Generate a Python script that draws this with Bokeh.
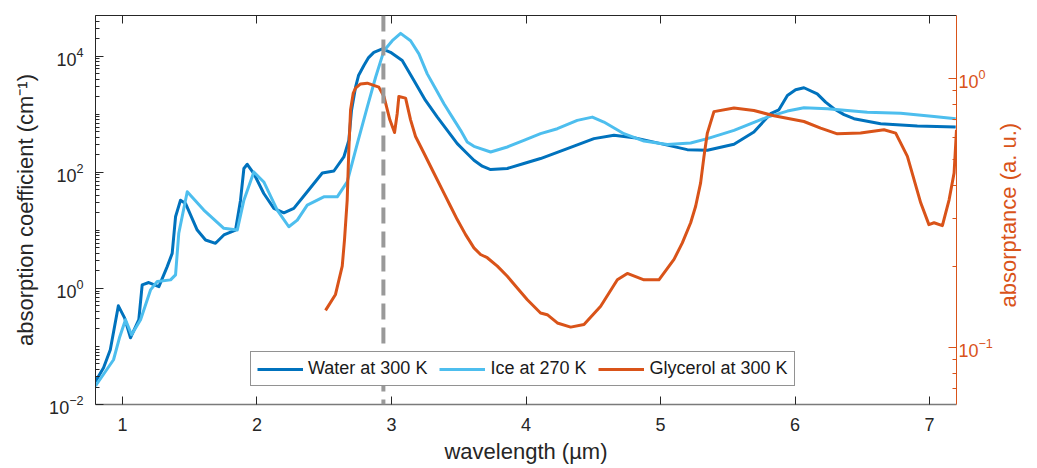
import math
from bokeh.plotting import figure
from bokeh.models import (Range1d, LogScale, LogAxis, LinearAxis, FixedTicker,
                          Span, Legend, LegendItem, CustomJSTickFormatter)
from bokeh.embed import file_html
from bokeh.resources import INLINE

# ---------------- data ----------------
water_wl = [0.80, 0.86, 0.91, 0.97, 1.016, 1.06, 1.122, 1.147, 1.196, 1.271, 1.333,
            1.370, 1.395, 1.432, 1.469, 1.556, 1.618, 1.692, 1.754, 1.841, 1.878,
            1.903, 1.928, 1.977, 2.051, 2.126, 2.200, 2.274, 2.374, 2.486, 2.572,
            2.646, 2.683, 2.703, 2.733, 2.755, 2.795, 2.830, 2.869, 2.932, 2.993,
            3.080, 3.167, 3.253, 3.341, 3.415, 3.489, 3.551, 3.613, 3.675, 3.737,
            3.861, 3.984, 4.108, 4.307, 4.505, 4.654, 4.802, 5.001, 5.199, 5.348,
            5.546, 5.694, 5.818, 5.880, 5.943, 6.004, 6.066, 6.165, 6.227, 6.289,
            6.364, 6.438, 6.636, 6.909, 7.194]
water_abs = [0.025, 0.043, 0.088, 0.50, 0.31, 0.141, 0.29, 1.15, 1.26, 1.07, 2.37,
             4.0, 17.1, 33, 29, 10.1, 6.8, 5.97, 8.3, 10.1, 33,
             116, 137, 95, 43, 23.8, 20, 23.8, 46, 97, 105,
             183, 354, 1160, 2910, 4620, 6870, 9420, 11600, 13300, 11600,
             8370, 3800, 1720, 889, 526, 311, 223, 161, 127, 111,
             116, 141, 172, 255, 379, 432, 394, 311, 245, 239,
             303, 492, 1020, 1190, 2100, 2630, 2850, 2240, 1610, 1240,
             980, 836, 686, 624, 600]

ice_wl = [0.80, 0.874, 0.934, 0.978, 1.023, 1.068, 1.135, 1.209, 1.259, 1.358, 1.395,
          1.419, 1.482, 1.605, 1.754, 1.854, 1.903, 1.977, 2.051, 2.151, 2.237,
          2.300, 2.374, 2.497, 2.597, 2.671, 2.746, 2.820, 2.882, 2.944, 3.006,
          3.068, 3.142, 3.204, 3.266, 3.328, 3.390, 3.452, 3.514, 3.563, 3.613,
          3.737, 3.861, 3.984, 4.108, 4.233, 4.381, 4.493, 4.579, 4.728, 4.877,
          5.051, 5.224, 5.348, 5.546, 5.794, 5.943, 6.066, 6.240, 6.537, 6.785,
          7.033, 7.194]
ice_abs = [0.021, 0.037, 0.059, 0.141, 0.288, 0.159, 0.288, 0.94, 1.31, 1.40, 1.71,
           8.9, 46, 22.3, 10.8, 10.1, 33, 101, 68, 22.3, 11.5,
           15, 27.2, 37.7, 37.7, 68, 311, 1320, 4320, 12400, 18400,
           24600, 18400, 10900, 4940, 2740, 1510, 889, 526, 331, 279,
           223, 272, 354, 461, 562, 781, 889, 731, 461, 344,
           299, 319, 379, 526, 889, 1130, 1290, 1240, 1080, 1040,
           915, 836]

gly_wl = [2.510, 2.584, 2.634, 2.651, 2.671, 2.683, 2.696, 2.716, 2.733, 2.770,
          2.820, 2.906, 2.944, 2.988, 3.023, 3.043, 3.055, 3.105, 3.142, 3.179,
          3.241, 3.315, 3.390, 3.439, 3.489, 3.551, 3.613, 3.662, 3.712, 3.787,
          3.861, 3.935, 4.010, 4.108, 4.158, 4.233, 4.332, 4.431, 4.555, 4.679,
          4.753, 4.877, 4.988, 5.100, 5.162, 5.224, 5.261, 5.298, 5.323, 5.348,
          5.397, 5.546, 5.694, 5.843, 6.066, 6.190, 6.314, 6.487, 6.661, 6.748,
          6.835, 6.934, 6.995, 7.033, 7.095, 7.145, 7.182, 7.200]
gly_abs = [0.137, 0.157, 0.200, 0.251, 0.353, 0.542, 0.763, 0.880, 0.918, 0.952,
           0.958, 0.926, 0.855, 0.700, 0.628, 0.741, 0.855, 0.843, 0.700, 0.607,
           0.527, 0.444, 0.374, 0.334, 0.298, 0.262, 0.234, 0.221, 0.215, 0.200,
           0.1834, 0.166, 0.150, 0.134, 0.132, 0.123, 0.1187, 0.1214, 0.142, 0.178,
           0.188, 0.178, 0.178, 0.212, 0.244, 0.290, 0.334, 0.408, 0.512, 0.625,
           0.751, 0.774, 0.758, 0.725, 0.690, 0.652, 0.621, 0.625, 0.643, 0.625,
           0.512, 0.344, 0.2855, 0.290, 0.283, 0.353, 0.444, 0.643]

marker_wl = 2.94

x_ticks = [1, 2, 3, 4, 5, 6, 7]
left_ticks = [1e-2, 1e0, 1e2, 1e4]
right_ticks = [0.1, 1.0]

labels = ["Water at 300 K", "Ice at 270 K", "Glycerol at 300 K"]
colors = ["#0072BD", "#4DBEEE", "#D95319"]
x_title = "wavelength (µm)"
left_title = "absorption coefficient (cm⁻¹)"
right_title = "absorptance (a. u.)"

# ---------------- figure ----------------
FONT = "Liberation Sans"
DARK = "#262626"
ORANGE = "#D95319"
RIGHT_LO, RIGHT_HI = 0.0612, 1.71
RIGHT_TITLE_AT = 0.1404   # where the upward-reading right title starts

p = figure(width=1037, height=468, x_range=Range1d(0.8, 7.2),
           y_range=Range1d(0.01, 5.0e4), y_axis_type="log",
           output_backend="svg", toolbar_location=None,
           min_border_left=95, min_border_right=81, min_border_top=15,
           min_border_bottom=64, background_fill_color="white",
           border_fill_color="white")
p.outline_line_color = None
p.grid.visible = False
p.extra_y_ranges = {"right": Range1d(RIGHT_LO, RIGHT_HI)}
p.extra_y_scales = {"right": LogScale()}

left_minor = [m * 10.0 ** k for k in range(-2, 5) for m in range(1, 10)
              if not (m == 1 and k % 2 == 0)]
right_minor = [0.07, 0.08, 0.09, 0.2, 0.3, 0.4, 0.5, 0.6, 0.7, 0.8, 0.9]

# bottom axis
xa = p.xaxis[0]
xa.ticker = FixedTicker(ticks=x_ticks)
xa.axis_label = x_title
xa.minor_tick_line_color = None
xa.major_tick_in = 8
xa.major_tick_out = 0
xa.axis_line_color = "#7a7a7a"
xa.axis_line_width = 1.5
xa.major_tick_line_color = DARK
xa.major_label_text_font = FONT
xa.major_label_text_font_size = "18px"
xa.major_label_text_color = DARK
xa.major_label_standoff = 13
xa.axis_label_text_font = FONT
xa.axis_label_text_font_size = "22px"
xa.axis_label_text_font_style = "normal"
xa.axis_label_text_color = DARK
xa.axis_label_standoff = 5

# left axis
ya = p.yaxis[0]
ya.ticker = FixedTicker(ticks=left_ticks, minor_ticks=left_minor)
ya.axis_label = left_title
ya.major_tick_in = 8
ya.major_tick_out = 0
ya.minor_tick_in = 4
ya.minor_tick_out = 0
ya.axis_line_color = DARK
ya.major_tick_line_color = DARK
ya.minor_tick_line_color = DARK
ya.major_label_text_font = FONT
ya.major_label_text_font_size = "18px"
ya.major_label_text_color = DARK
ya.major_label_standoff = 12
ya.axis_label_text_font = FONT
ya.axis_label_text_font_size = "22px"
ya.axis_label_text_font_style = "normal"
ya.axis_label_text_color = DARK
ya.axis_label_standoff = 8

# top axis (box edge with ticks, no labels)
top = LinearAxis(ticker=FixedTicker(ticks=x_ticks), major_label_text_font_size="1px",
                 major_label_text_color=None, major_label_standoff=0,
                 major_tick_in=8, major_tick_out=0,
                 minor_tick_line_color=None, axis_line_color=DARK,
                 major_tick_line_color=DARK)
p.add_layout(top, "above")

# right axis
ra = LogAxis(y_range_name="right",
             ticker=FixedTicker(ticks=right_ticks, minor_ticks=right_minor))
ra.major_tick_in = 8
ra.major_tick_out = 0
ra.minor_tick_in = 4
ra.minor_tick_out = 0
ra.axis_line_color = ORANGE
ra.major_tick_line_color = ORANGE
ra.minor_tick_line_color = ORANGE
ra.major_label_text_font = FONT
ra.major_label_text_font_size = "18px"
ra.major_label_text_color = ORANGE
ra.major_label_standoff = 2
p.add_layout(ra, "right")

# right-axis title, drawn as a single rotated tick label so that it reads upward
rt = LogAxis(y_range_name="right", ticker=FixedTicker(ticks=[RIGHT_TITLE_AT], minor_ticks=[]),
             formatter=CustomJSTickFormatter(code="return %r;" % right_title),
             major_label_orientation=math.pi / 2, major_label_standoff=7,
             major_tick_line_color=None, minor_tick_line_color=None,
             axis_line_color=None, major_label_text_font=FONT,
             major_label_text_font_size="22px", major_label_text_color=ORANGE)
p.add_layout(rt, "right")

# curves
r_w = p.line(water_wl, water_abs, line_color=colors[0], line_width=3, line_join="round")
r_i = p.line(ice_wl, ice_abs, line_color=colors[1], line_width=3, line_join="round")
r_g = p.line(gly_wl, gly_abs, line_color=colors[2], line_width=3, line_join="round",
             y_range_name="right")

p.add_layout(Span(location=marker_wl, dimension="height", line_color="#999999",
                  line_width=4, line_dash="16 8"))

legend = Legend(items=[LegendItem(label=labels[0], renderers=[r_w]),
                       LegendItem(label=labels[1], renderers=[r_i]),
                       LegendItem(label=labels[2], renderers=[r_g])],
                orientation="horizontal", location=(155, 18), margin=0,
                padding=6, spacing=12, label_standoff=5, glyph_width=46,
                glyph_height=20, label_height=20,
                label_text_font=FONT, label_text_font_size="18px",
                label_text_color="#1a1a1a", border_line_color=DARK,
                border_line_width=1, background_fill_color="white",
                background_fill_alpha=1.0)
p.add_layout(legend, "center")

open("out.html", "w").write(file_html(p, INLINE))
